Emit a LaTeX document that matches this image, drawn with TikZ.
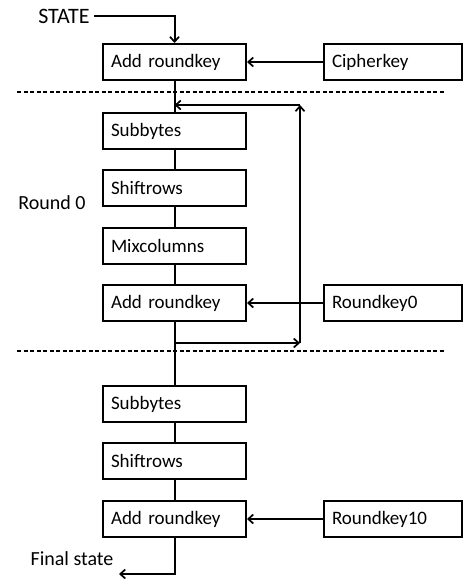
\documentclass[tikz,border=0pt]{standalone}
\usepackage{fontspec}
\setmainfont{Carlito}
\usetikzlibrary{arrows.meta}
\begin{document}
\begin{tikzpicture}[x=1pt,y=-1pt,
  box/.style={draw,line width=2pt,minimum height=36pt,inner sep=0pt,font=\fontsize{19}{21}\selectfont,align=left,anchor=west},
  lbox/.style={box,minimum width=143pt,text width=127pt},
  rbox/.style={box,minimum width=138pt,text width=122pt},
  lab/.style={font=\fontsize{20}{22}\selectfont,inner sep=0pt},
  conn/.style={line width=2pt},
  arr/.style={conn,-{Straight Barb[length=5pt,width=9pt,line width=1.7pt]}},
  sep/.style={line width=1.7pt,dash pattern=on 4pt off 2.5pt}]
\useasboundingbox (0,0) rectangle (464,579);
\node[lab,font=\fontsize{22}{24}\selectfont] (state) at (64,16) {STATE};
\node[lbox] (ark1) at (102,62) {Add roundkey};
\node[rbox] (ck) at (323,62) {Cipherkey};
\node[lbox] (sb1) at (102,131) {Subbytes};
\node[lbox] (sr1) at (102,188) {Shiftrows};
\node[lbox] (mc1) at (102,246) {Mixcolumns};
\node[lbox] (ark2) at (102,303) {Add roundkey};
\node[rbox] (rk0) at (323,303) {Roundkey0};
\node[lab] (round) at (52,203) {Round 0};
\node[lbox] (sb2) at (102,404) {Subbytes};
\node[lbox] (sr2) at (102,461) {Shiftrows};
\node[lbox] (ark3) at (102,519) {Add roundkey};
\node[rbox] (rk10) at (323,519) {Roundkey10};
\node[lab] (final) at (72,559) {Final state};
\coordinate (d1a) at (17,92); \coordinate (d1b) at (445,92);
\coordinate (d2a) at (17,351); \coordinate (d2b) at (445,351);
\coordinate (top) at (300,105);
\coordinate (bot) at (300,343);
\coordinate (fend) at (119,574);
\draw[sep] (d1a) -- (d1b);
\draw[sep] (d2a) -- (d2b);
\draw[arr] (state.east) ++(4,0) -| (ark1.north);
\draw[arr] (ck.west) -- (ark1.east);
\draw[arr] (rk0.west) -- (ark2.east);
\draw[arr] (rk10.west) -- (ark3.east);
\draw[conn] (ark1.south) -- (sb1.north);
\draw[conn] (sb1.south) -- (sr1.north);
\draw[conn] (sr1.south) -- (mc1.north);
\draw[conn] (mc1.south) -- (ark2.north);
\draw[conn] (ark2.south) -- (sb2.north);
\draw[conn] (sb2.south) -- (sr2.north);
\draw[conn] (sr2.south) -- (ark3.north);
\draw[arr] (ark2.south |- bot) -- (bot);
\draw[arr] (bot) -- (top);
\draw[arr] (top) -- (ark1.south |- top);
\draw[arr] (ark3.south) |- (fend);
\end{tikzpicture}
\end{document}
